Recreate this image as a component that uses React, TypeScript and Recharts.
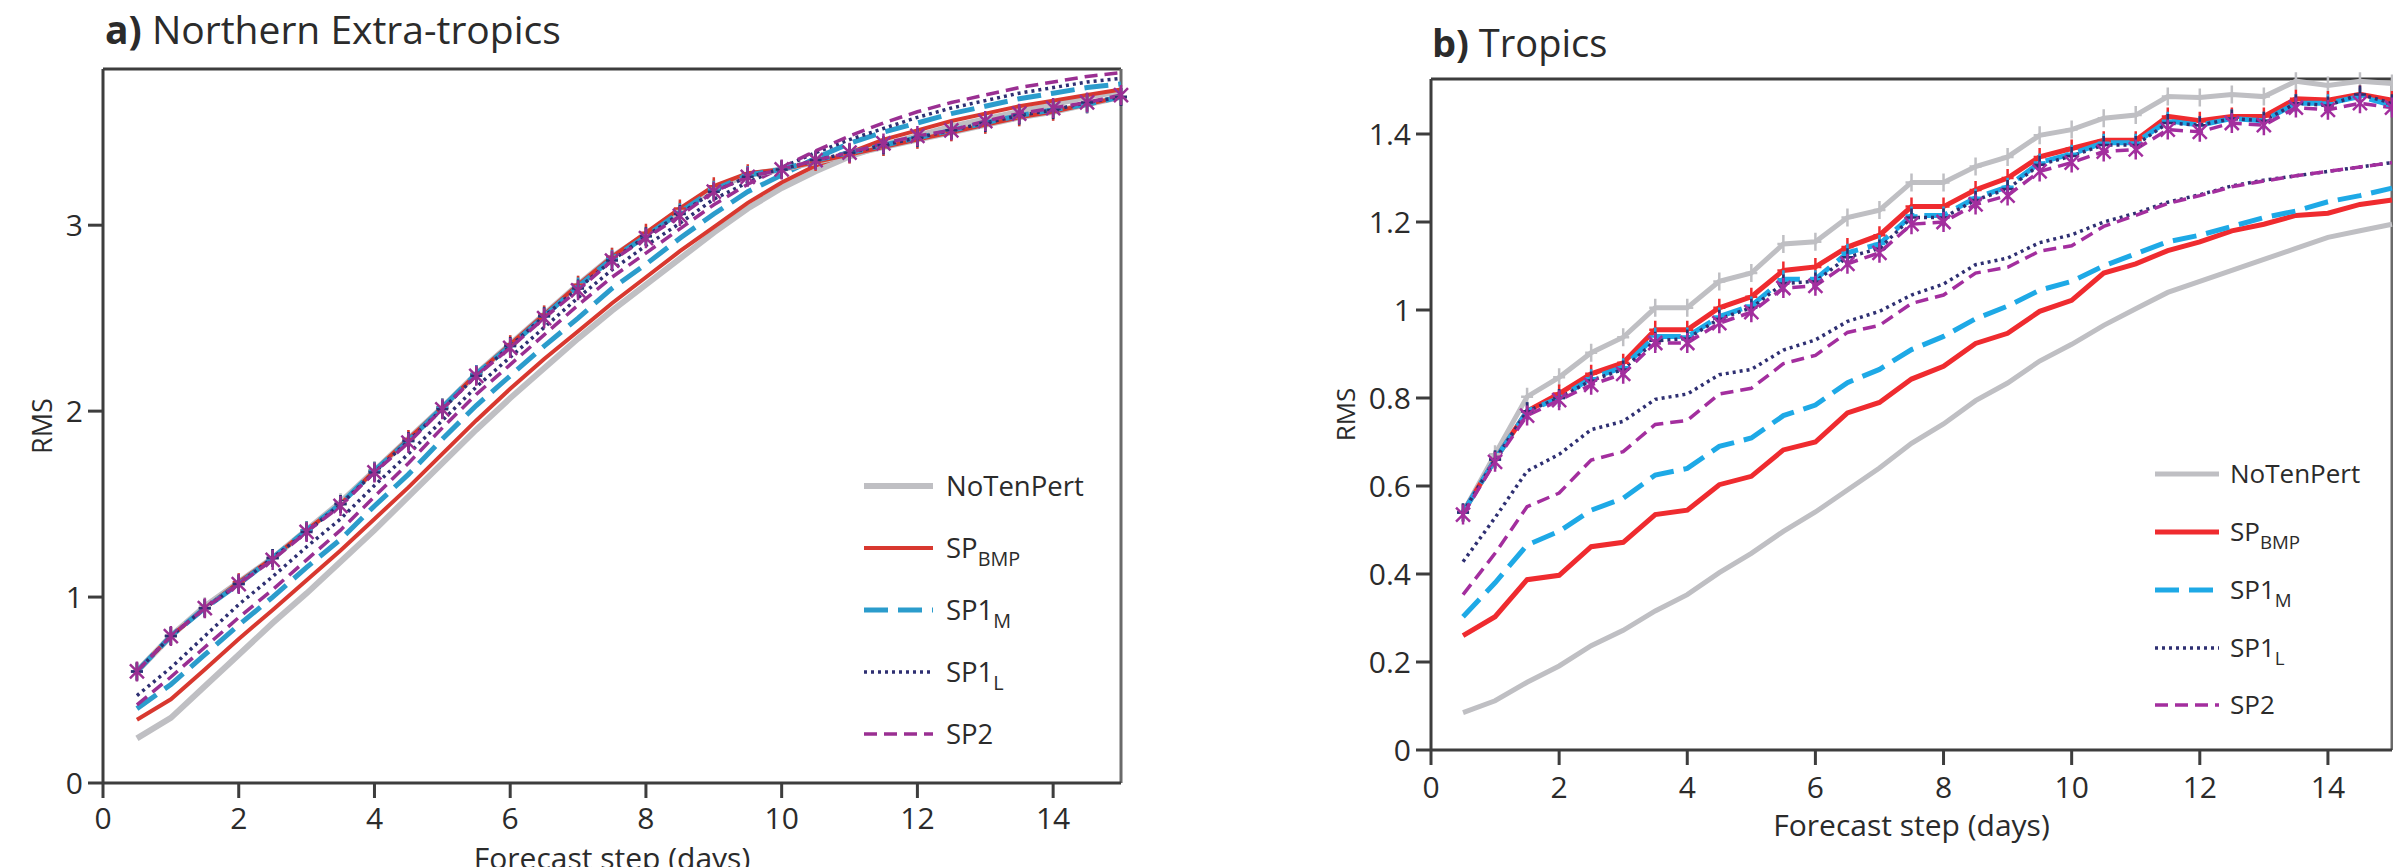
import { Line, LineChart, ReferenceLine, XAxis, YAxis } from "recharts";

const FONT = '"Open Sans", "Noto Sans", sans-serif';
const AX = "#3d3d3d";
const TXT = "#2b2b2b";

// forecast steps (days)
const days = [
  0.5, 1, 1.5, 2, 2.5, 3, 3.5, 4, 4.5, 5, 5.5, 6, 6.5, 7, 7.5, 8, 8.5, 9, 9.5, 10,
  10.5, 11, 11.5, 12, 12.5, 13, 13.5, 14, 14.5, 15,
];
const xTicks = [0, 2, 4, 6, 8, 10, 12, 14];

// a) Northern Extra-tropics, lower set (no markers)
const nhSpreadNoTen = [0.24, 0.35, 0.52, 0.69, 0.86, 1.02, 1.19, 1.36, 1.54, 1.72, 1.9, 2.07, 2.23, 2.39, 2.54, 2.68, 2.82, 2.96, 3.09, 3.2, 3.29, 3.37, 3.43, 3.48, 3.53, 3.57, 3.61, 3.65, 3.69, 3.72];
const nhSpreadBmp = [0.34, 0.45, 0.61, 0.775, 0.93, 1.09, 1.25, 1.42, 1.59, 1.77, 1.95, 2.12, 2.28, 2.43, 2.58, 2.72, 2.86, 2.99, 3.12, 3.23, 3.32, 3.39, 3.46, 3.51, 3.56, 3.6, 3.64, 3.67, 3.7, 3.73];
const nhSpreadSp1m = [0.4, 0.53, 0.69, 0.85, 1.0, 1.16, 1.31, 1.49, 1.66, 1.85, 2.03, 2.19, 2.35, 2.5, 2.66, 2.79, 2.93, 3.06, 3.18, 3.27, 3.36, 3.44, 3.5, 3.55, 3.6, 3.64, 3.68, 3.71, 3.74, 3.76];
const nhSpreadSp1l = [0.47, 0.62, 0.79, 0.96, 1.11, 1.27, 1.42, 1.6, 1.77, 1.95, 2.13, 2.29, 2.45, 2.61, 2.76, 2.89, 3.01, 3.14, 3.23, 3.31, 3.39, 3.46, 3.52, 3.58, 3.63, 3.67, 3.71, 3.74, 3.77, 3.79];
const nhSpreadSp2 = [0.42, 0.57, 0.73, 0.89, 1.04, 1.2, 1.36, 1.54, 1.72, 1.91, 2.09, 2.25, 2.41, 2.57, 2.72, 2.85, 2.98, 3.11, 3.22, 3.31, 3.4, 3.48, 3.55, 3.61, 3.66, 3.7, 3.74, 3.77, 3.8, 3.82];

// a) upper set (with markers)
const nhErrNoTen = [0.6, 0.79, 0.95, 1.08, 1.21, 1.36, 1.51, 1.68, 1.85, 2.02, 2.2, 2.36, 2.52, 2.68, 2.83, 2.95, 3.08, 3.2, 3.27, 3.3, 3.34, 3.38, 3.42, 3.46, 3.5, 3.54, 3.58, 3.61, 3.65, 3.69];
const nhErrBmp = [0.6, 0.79, 0.94, 1.08, 1.21, 1.36, 1.5, 1.68, 1.85, 2.02, 2.2, 2.36, 2.52, 2.68, 2.83, 2.96, 3.09, 3.21, 3.28, 3.3, 3.34, 3.38, 3.42, 3.46, 3.5, 3.54, 3.58, 3.61, 3.65, 3.69];
const nhErrSp1m = [0.6, 0.79, 0.94, 1.07, 1.21, 1.36, 1.5, 1.68, 1.84, 2.02, 2.2, 2.35, 2.51, 2.67, 2.82, 2.94, 3.07, 3.19, 3.27, 3.3, 3.35, 3.39, 3.43, 3.47, 3.51, 3.55, 3.59, 3.62, 3.65, 3.69];
const nhErrSp1l = [0.6, 0.79, 0.94, 1.07, 1.21, 1.35, 1.5, 1.67, 1.84, 2.01, 2.19, 2.35, 2.51, 2.66, 2.81, 2.94, 3.06, 3.18, 3.26, 3.3, 3.35, 3.39, 3.43, 3.47, 3.51, 3.55, 3.59, 3.62, 3.66, 3.69];
const nhErrSp2 = [0.6, 0.79, 0.94, 1.07, 1.2, 1.35, 1.49, 1.67, 1.83, 2.01, 2.19, 2.34, 2.5, 2.65, 2.81, 2.93, 3.05, 3.18, 3.26, 3.3, 3.35, 3.39, 3.44, 3.48, 3.51, 3.56, 3.6, 3.63, 3.66, 3.7];

// b) Tropics, lower set
const trSpreadNoTen = [0.085, 0.112, 0.154, 0.191, 0.237, 0.272, 0.316, 0.353, 0.403, 0.447, 0.497, 0.541, 0.591, 0.641, 0.697, 0.741, 0.794, 0.834, 0.884, 0.922, 0.965, 1.003, 1.04, 1.065, 1.09, 1.115, 1.14, 1.165, 1.18, 1.195];
const trSpreadBmp = [0.26, 0.303, 0.387, 0.397, 0.462, 0.472, 0.535, 0.545, 0.603, 0.622, 0.682, 0.7, 0.766, 0.79, 0.843, 0.872, 0.924, 0.947, 0.997, 1.022, 1.084, 1.105, 1.135, 1.155, 1.18, 1.195, 1.215, 1.22, 1.24, 1.25];
const trSpreadSp1m = [0.303, 0.38, 0.466, 0.497, 0.545, 0.572, 0.625, 0.64, 0.69, 0.709, 0.76, 0.784, 0.835, 0.865, 0.91, 0.94, 0.98, 1.009, 1.045, 1.065, 1.1, 1.128, 1.155, 1.17, 1.19, 1.21, 1.225, 1.246, 1.26, 1.277];
const trSpreadSp1l = [0.428, 0.528, 0.634, 0.672, 0.728, 0.747, 0.797, 0.809, 0.853, 0.865, 0.909, 0.932, 0.974, 0.997, 1.034, 1.059, 1.103, 1.118, 1.153, 1.171, 1.2, 1.22, 1.245, 1.262, 1.282, 1.295, 1.305, 1.315, 1.325, 1.335];
const trSpreadSp2 = [0.353, 0.447, 0.553, 0.584, 0.659, 0.678, 0.74, 0.749, 0.809, 0.822, 0.878, 0.897, 0.949, 0.965, 1.015, 1.034, 1.084, 1.097, 1.134, 1.146, 1.19, 1.215, 1.242, 1.26, 1.28, 1.293, 1.305, 1.315, 1.325, 1.335];

// b) upper set
const trErrNoTen = [0.54, 0.672, 0.803, 0.847, 0.903, 0.938, 1.005, 1.005, 1.065, 1.084, 1.15, 1.155, 1.21, 1.227, 1.29, 1.29, 1.326, 1.348, 1.397, 1.41, 1.436, 1.443, 1.485, 1.483, 1.49, 1.485, 1.52, 1.51, 1.52, 1.515];
const trErrBmp = [0.54, 0.66, 0.77, 0.81, 0.855, 0.88, 0.955, 0.955, 1.005, 1.03, 1.09, 1.098, 1.143, 1.17, 1.235, 1.235, 1.273, 1.3, 1.348, 1.367, 1.386, 1.386, 1.44, 1.43, 1.44, 1.44, 1.48, 1.477, 1.49, 1.477];
const trErrSp1m = [0.54, 0.66, 0.77, 0.8, 0.845, 0.87, 0.94, 0.94, 0.985, 1.01, 1.07, 1.07, 1.13, 1.15, 1.215, 1.215, 1.255, 1.28, 1.335, 1.355, 1.38, 1.38, 1.43, 1.42, 1.435, 1.43, 1.47, 1.47, 1.485, 1.465];
const trErrSp1l = [0.54, 0.66, 0.77, 0.8, 0.84, 0.865, 0.93, 0.935, 0.98, 1.005, 1.06, 1.065, 1.12, 1.14, 1.21, 1.21, 1.25, 1.275, 1.33, 1.35, 1.375, 1.375, 1.425, 1.42, 1.435, 1.43, 1.47, 1.465, 1.49, 1.47];
const trErrSp2 = [0.535, 0.655, 0.76, 0.795, 0.83, 0.855, 0.925, 0.925, 0.97, 0.995, 1.05, 1.055, 1.105, 1.13, 1.195, 1.2, 1.24, 1.26, 1.315, 1.335, 1.36, 1.365, 1.41, 1.405, 1.425, 1.42, 1.46, 1.455, 1.47, 1.46];

const nhYTicks = [0, 1, 2, 3];
const trYTicks = [0, 0.2, 0.4, 0.6, 0.8, 1, 1.2, 1.4];

const legendNames = [
  { main: "NoTenPert", sub: "" },
  { main: "SP", sub: "BMP" },
  { main: "SP1", sub: "M" },
  { main: "SP1", sub: "L" },
  { main: "SP2", sub: "" },
];

const buildRows = (lists: number[][]) =>
  days.map((d, i) => ({
    day: d,
    sNo: lists[0][i],
    sBmp: lists[1][i],
    sM: lists[2][i],
    sL: lists[3][i],
    s2: lists[4][i],
    eNo: lists[5][i],
    eBmp: lists[6][i],
    eM: lists[7][i],
    eL: lists[8][i],
    e2: lists[9][i],
  }));

const nhRows = buildRows([
  nhSpreadNoTen, nhSpreadBmp, nhSpreadSp1m, nhSpreadSp1l, nhSpreadSp2,
  nhErrNoTen, nhErrBmp, nhErrSp1m, nhErrSp1l, nhErrSp2,
]);
const trRows = buildRows([
  trSpreadNoTen, trSpreadBmp, trSpreadSp1m, trSpreadSp1l, trSpreadSp2,
  trErrNoTen, trErrBmp, trErrSp1m, trErrSp1l, trErrSp2,
]);

type Look = { color: string; width: number; dash?: string };
type Palette = { gray: Look; red: Look; blue: Look; navy: Look; purple: Look };

const nhLook: Palette = {
  gray: { color: "#bfbfc3", width: 6 },
  red: { color: "#d8382f", width: 4 },
  blue: { color: "#2b9ccc", width: 5, dash: "24 10" },
  navy: { color: "#2e2f72", width: 3.5, dash: "3 4" },
  purple: { color: "#9a2f92", width: 3.5, dash: "13 7" },
};
const trLook: Palette = {
  gray: { color: "#bfbfc3", width: 5 },
  red: { color: "#ef2b2f", width: 5 },
  blue: { color: "#1ea9e6", width: 5, dash: "24 10" },
  navy: { color: "#2e2f72", width: 3.5, dash: "3 4" },
  purple: { color: "#a32e9e", width: 3.5, dash: "13 7" },
};

const plusDot = (color: string) => (p: any) => {
  const { cx, cy, index } = p;
  if (cx == null || cy == null) return <g key={`d${index}`} />;
  return (
    <path
      key={`d${index}`}
      d={`M${cx - 6},${cy}H${cx + 6}M${cx},${cy - 9}V${cy + 9}`}
      stroke={color}
      strokeWidth={2.5}
      fill="none"
    />
  );
};

const starDot = (color: string) => (p: any) => {
  const { cx, cy, index } = p;
  if (cx == null || cy == null) return <g key={`d${index}`} />;
  return (
    <path
      key={`d${index}`}
      d={`M${cx - 7},${cy - 7}L${cx + 7},${cy + 7}M${cx - 7},${cy + 7}L${cx + 7},${cy - 7}M${cx},${cy - 10}V${cy + 10}`}
      stroke={color}
      strokeWidth={2.5}
      fill="none"
    />
  );
};

type PanelProps = {
  rows: any[];
  left: number;
  width: number;
  marginTop: number;
  marginRight: number;
  yAxisWidth: number;
  xAxisHeight: number;
  yMax: number;
  yTicks: number[];
  tickFont: number;
  tickGap: number;
  look: Palette;
  rmsOffset: number;
  rmsFont: number;
  xTitleDy: number;
  xTitleFont: number;
};

function RmsPanel(props: PanelProps) {
  const { rows, look } = props;
  const lines: { key: string; l: Look; marker?: "plus" | "star" }[] = [
    { key: "sNo", l: look.gray },
    { key: "sBmp", l: look.red },
    { key: "sM", l: look.blue },
    { key: "sL", l: look.navy },
    { key: "s2", l: look.purple },
    { key: "eNo", l: look.gray, marker: "plus" },
    { key: "eBmp", l: look.red, marker: "plus" },
    { key: "eM", l: look.blue, marker: "plus" },
    { key: "eL", l: look.navy, marker: "plus" },
    { key: "e2", l: look.purple, marker: "star" },
  ];

  const xTitle = (p: any) => {
    const vb = p.viewBox;
    if (!vb) return null;
    return (
      <text
        x={vb.x + vb.width / 2}
        y={vb.y + props.xTitleDy}
        textAnchor="middle"
        fill={TXT}
        fontFamily={FONT}
        fontSize={props.xTitleFont}
      >
        Forecast step (days)
      </text>
    );
  };

  const yTitle = (p: any) => {
    const vb = p.viewBox;
    if (!vb) return null;
    const x = vb.x + props.rmsOffset;
    const y = vb.y + vb.height / 2;
    return (
      <text
        x={x}
        y={y}
        transform={`rotate(-90 ${x} ${y})`}
        textAnchor="middle"
        fill={TXT}
        fontFamily={FONT}
        fontSize={props.rmsFont}
      >
        RMS
      </text>
    );
  };

  return (
    <div style={{ position: "absolute", left: props.left, top: 0 }}>
      <LineChart
        width={props.width}
        height={867}
        data={rows}
        margin={{ top: props.marginTop, right: props.marginRight, bottom: 0, left: 0 }}
      >
        <XAxis
          dataKey="day"
          type="number"
          domain={[0, 15]}
          ticks={xTicks}
          height={props.xAxisHeight}
          tickSize={15}
          tickMargin={props.tickGap}
          axisLine={{ stroke: AX, strokeWidth: 3 }}
          tickLine={{ stroke: AX, strokeWidth: 3 }}
          tick={{ fill: TXT, fontSize: props.tickFont, fontFamily: FONT }}
          label={{ content: xTitle }}
        />
        <YAxis
          type="number"
          domain={[0, props.yMax]}
          ticks={props.yTicks}
          width={props.yAxisWidth}
          tickSize={15}
          tickMargin={5}
          axisLine={{ stroke: AX, strokeWidth: 3 }}
          tickLine={{ stroke: AX, strokeWidth: 3 }}
          tick={{ fill: TXT, fontSize: props.tickFont, fontFamily: FONT }}
          label={{ content: yTitle }}
        />
        <ReferenceLine y={props.yMax} stroke={AX} strokeWidth={3} />
        <ReferenceLine x={15} stroke="#6a6a6a" strokeWidth={3} />
        {lines.map((s) => (
          <Line
            key={s.key}
            dataKey={s.key}
            type="linear"
            stroke={s.l.color}
            strokeWidth={s.l.width}
            strokeDasharray={s.l.dash}
            dot={
              s.marker === "plus"
                ? plusDot(s.l.color)
                : s.marker === "star"
                ? starDot(s.l.color)
                : false
            }
            activeDot={false}
            isAnimationActive={false}
          />
        ))}
      </LineChart>
    </div>
  );
}

type LegendProps = {
  x1: number;
  x2: number;
  textX: number;
  rowsY: number[];
  font: number;
  look: Palette;
};

function LegendBlock({ x1, x2, textX, rowsY, font, look }: LegendProps) {
  const looks = [look.gray, look.red, look.blue, look.navy, look.purple];
  return (
    <g>
      {legendNames.map((n, i) => (
        <g key={i}>
          <line
            x1={x1}
            x2={x2}
            y1={rowsY[i]}
            y2={rowsY[i]}
            stroke={looks[i].color}
            strokeWidth={looks[i].width}
            strokeDasharray={looks[i].dash}
          />
          <text x={textX} y={rowsY[i] + font * 0.36} fill={TXT} fontFamily={FONT} fontSize={font}>
            {n.main}
            {n.sub ? (
              <tspan fontSize={font * 0.72} dy={font * 0.3}>
                {n.sub}
              </tspan>
            ) : null}
          </text>
        </g>
      ))}
    </g>
  );
}

export default function App() {
  return (
    <div
      style={{
        position: "absolute",
        left: 0,
        top: 0,
        width: 2393,
        height: 867,
        overflow: "hidden",
        background: "#fff",
      }}
    >
      <RmsPanel
        rows={nhRows}
        left={0}
        width={1200}
        marginTop={69}
        marginRight={79}
        yAxisWidth={103}
        xAxisHeight={84}
        yMax={3.84}
        yTicks={nhYTicks}
        tickFont={30}
        tickGap={10}
        look={nhLook}
        rmsOffset={52}
        rmsFont={27}
        xTitleDy={86}
        xTitleFont={30}
      />
      <RmsPanel
        rows={trRows}
        left={1200}
        width={1200}
        marginTop={79}
        marginRight={8}
        yAxisWidth={231}
        xAxisHeight={117}
        yMax={1.525}
        yTicks={trYTicks}
        tickFont={30}
        tickGap={12}
        look={trLook}
        rmsOffset={155}
        rmsFont={26}
        xTitleDy={86}
        xTitleFont={30}
      />
      <svg
        width={2393}
        height={867}
        style={{ position: "absolute", left: 0, top: 0, pointerEvents: "none" }}
      >
        <text x={105} y={44} fill={TXT} fontFamily={FONT} fontSize={39}>
          <tspan fontWeight={700}>a)</tspan> Northern Extra-tropics
        </text>
        <text x={1432} y={57} fill={TXT} fontFamily={FONT} fontSize={38}>
          <tspan fontWeight={700}>b)</tspan> Tropics
        </text>
        <LegendBlock x1={864} x2={933} textX={946} rowsY={[486, 548, 610, 672, 734]} font={27.5} look={nhLook} />
        <LegendBlock x1={2155} x2={2219} textX={2230} rowsY={[474, 532, 590, 648, 705]} font={26} look={trLook} />
      </svg>
    </div>
  );
}
